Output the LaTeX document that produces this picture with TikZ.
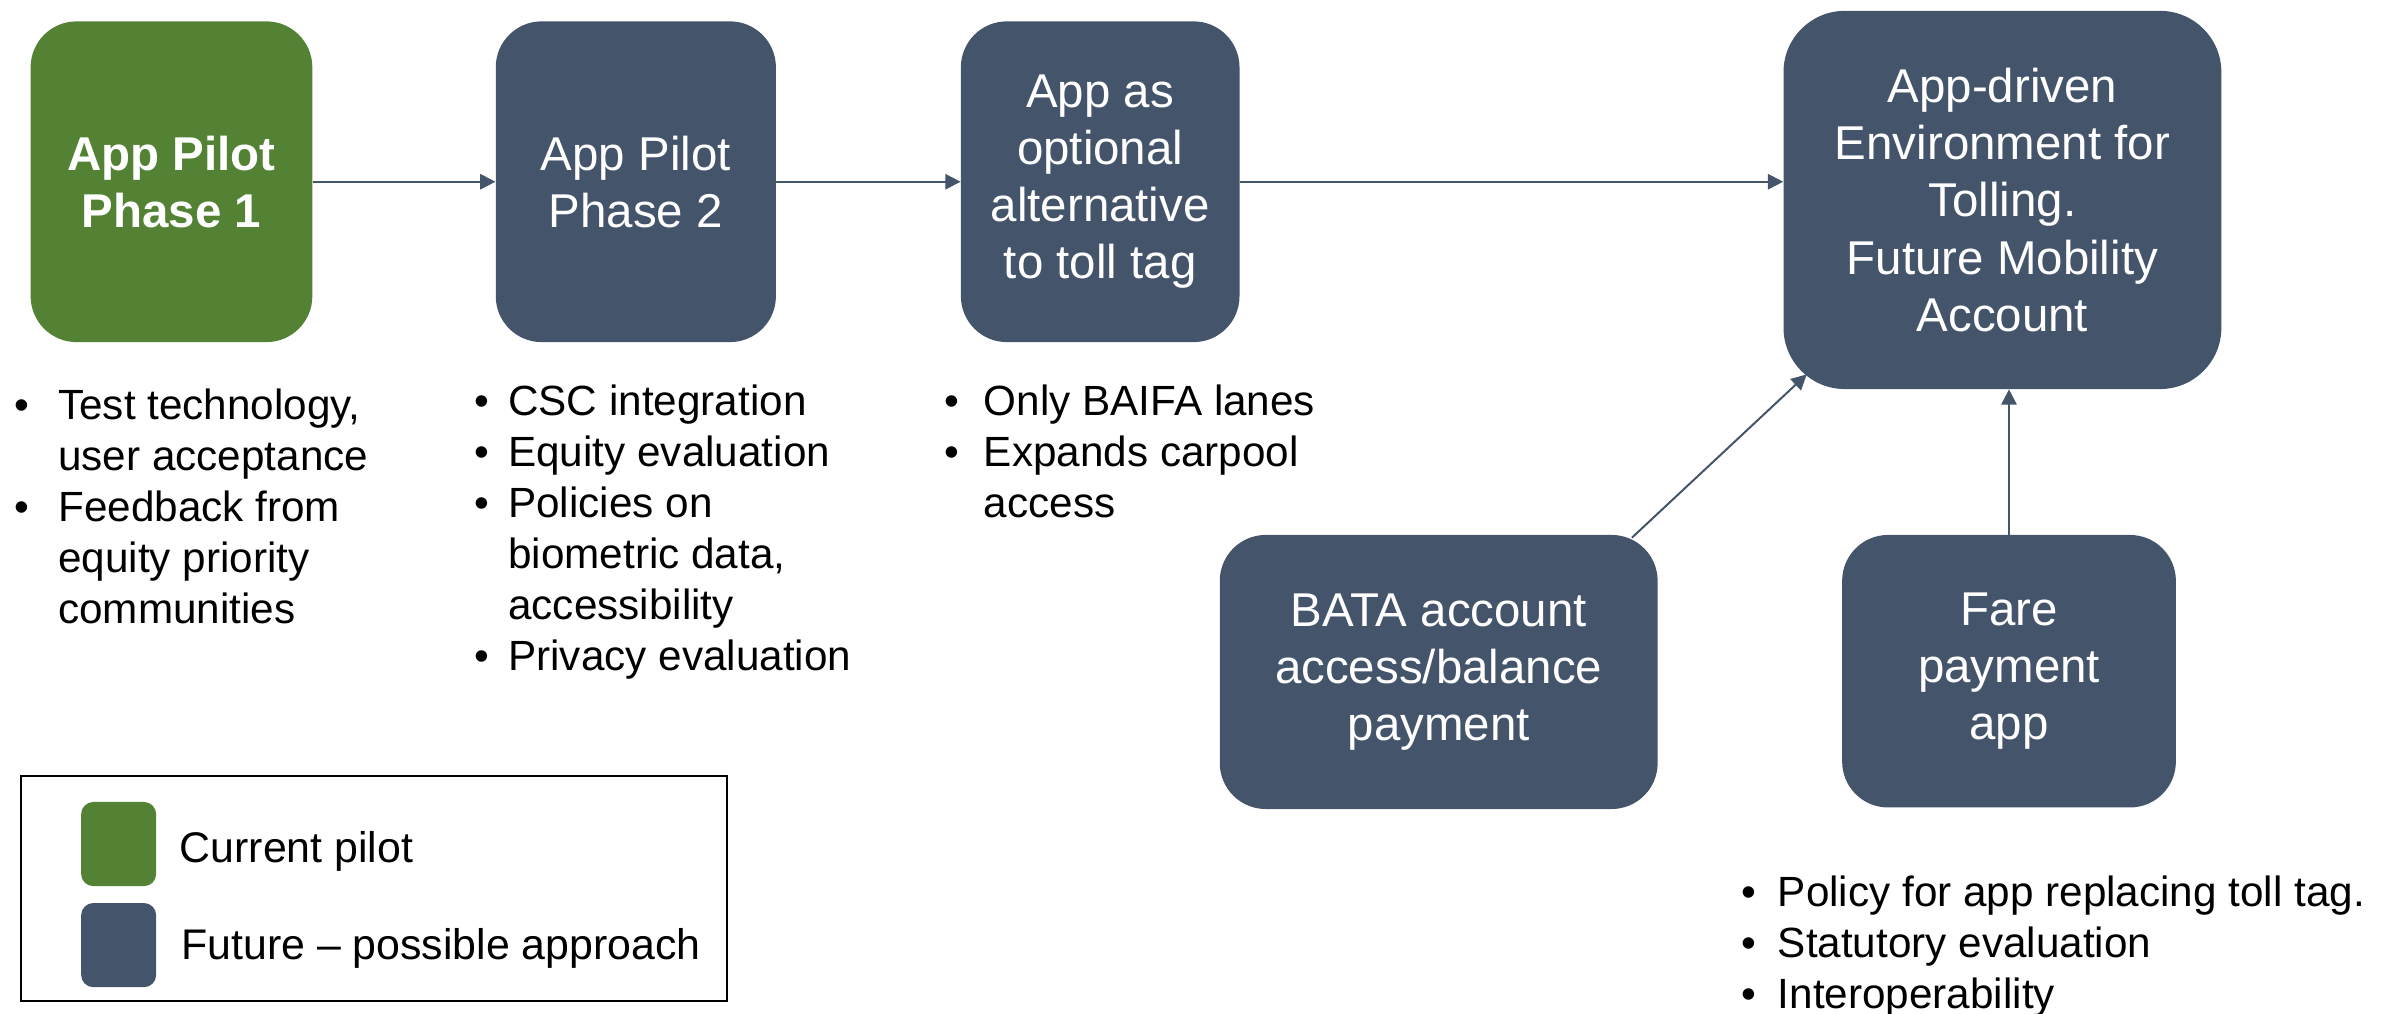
\documentclass[tikz,border=0pt]{standalone}
\usepackage{fontspec}
\setmainfont{Liberation Sans}
\usetikzlibrary{positioning,arrows.meta}
\definecolor{pilotgreen}{HTML}{548235}
\definecolor{slate}{HTML}{44546A}
\tikzstyle{stage} = [rectangle, rounded corners=30pt, fill=slate, text=white, align=center, inner sep=0pt, font=\fontsize{31}{37.3}\selectfont]
\tikzstyle{connector} = [line width=1.3pt, draw=slate, -{Triangle[length=10pt,width=10pt]}]
\tikzstyle{notes} = [anchor=north west, inner sep=0pt, font=\fontsize{27.6}{33.3}\selectfont]
\tikzstyle{swatch} = [rectangle, rounded corners=8pt, minimum width=49pt, minimum height=55pt, inner sep=0pt]

\begin{document}
\begin{tikzpicture}[x=1pt,y=-1pt]
        \useasboundingbox (0,0) rectangle (1560.4,662.3);
        % pilot stages
        \node (phase-1) [stage, fill=pilotgreen, minimum width=184pt, minimum height=209.5pt, font=\fontsize{31}{37.3}\selectfont\bfseries] at (112,118.7) {App Pilot\\Phase 1};
        \node (phase-2) [stage, minimum width=183pt, minimum height=209.5pt] at (415.3,118.7) {App Pilot\\Phase 2};
        \node (toll-alt) [stage, minimum width=182pt, minimum height=209.5pt] at (718.6,118.7) {App as\\optional\\alternative\\to toll tag};
        \node (mobility) [stage, rounded corners=40pt, minimum width=286pt, minimum height=247pt] at (1307.9,130.6) {App-driven\\Environment for\\Tolling.\\Future Mobility\\Account};
        \node (bata) [stage, minimum width=286pt, minimum height=179pt] at (939.7,438.9) {BATA account\\access/balance\\payment};
        \node (fare) [stage, minimum width=218pt, minimum height=178pt] at (1312.2,438.4) {Fare\\payment\\app};
        \draw [connector] (phase-1.east) -- (phase-2.west);
        \draw [connector] (phase-2.east) -- (toll-alt.west);
        \draw [connector] (toll-alt.east) -- (toll-alt.east -| mobility.west);
        \draw [connector] ([xshift=-17pt,yshift=-2pt]bata.north east) -- ([xshift=15.4pt,yshift=9.8pt]mobility.south west);
        \draw [connector] (fare.north) -- (fare.north |- mobility.south);
        % bullet notes
        \node (notes-1) [notes] at (9,250.7) {\begin{tabular}{@{}p{28.9pt}@{}l@{}}
                \textbullet & Test technology,\\
                 & user acceptance\\
                \textbullet & Feedback from\\
                 & equity priority\\
                 & communities
            \end{tabular}};
        \node (notes-2) [notes] at (309.8,247.8) {\begin{tabular}{@{}p{22pt}@{}l@{}}
                \textbullet & CSC integration\\
                \textbullet & Equity evaluation\\
                \textbullet & Policies on\\
                 & biometric data,\\
                 & accessibility\\
                \textbullet & Privacy evaluation
            \end{tabular}};
        \node (notes-3) [notes] at (616.5,247.8) {\begin{tabular}{@{}p{26pt}@{}l@{}}
                \textbullet & Only BAIFA lanes\\
                \textbullet & Expands carpool\\
                 & access
            \end{tabular}};
        \node (notes-4) [notes, font=\fontsize{27.6}{33}\selectfont] at (1137,569.1) {\begin{tabular}{@{}p{24pt}@{}l@{}}
                \textbullet & Policy for app replacing toll tag.\\
                \textbullet & Statutory evaluation\\
                \textbullet & Interoperability
            \end{tabular}};
        % legend
        \node (legend) [rectangle, draw=black, line width=1.3pt, minimum width=461pt, minimum height=147pt, inner sep=0pt] at (244.5,580.5) {};
        \node (sw-current) [swatch, fill=pilotgreen] at (77.5,551.3) {};
        \node (sw-future) [swatch, fill=slate] at (77.5,617.3) {};
        \node (lbl-current) [right=15pt of sw-current, yshift=-5pt, inner sep=0pt, font=\fontsize{28}{33.5}\selectfont] {Current pilot};
        \node (lbl-future) [right=16pt of sw-future, yshift=-2pt, inner sep=0pt, font=\fontsize{28}{33.5}\selectfont] {Future -- possible approach};
    \end{tikzpicture}
\end{document}
